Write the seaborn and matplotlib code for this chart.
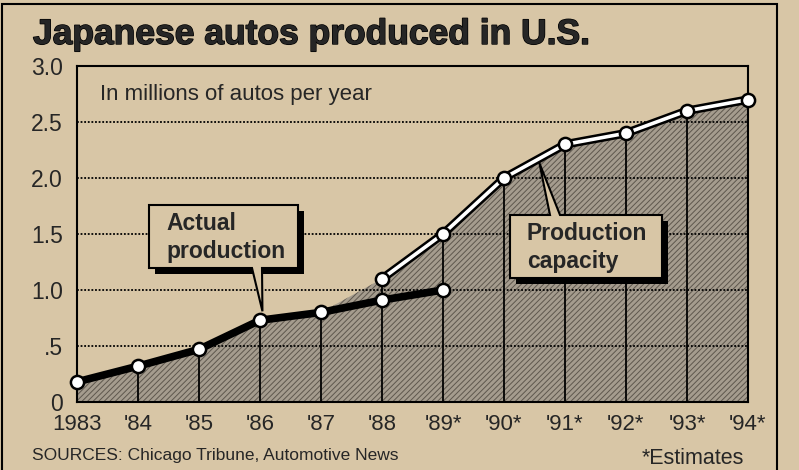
import matplotlib
matplotlib.use("Agg")
import matplotlib.pyplot as plt
import matplotlib.patheffects as pe
from matplotlib.patches import Polygon, Rectangle
import numpy as np
import pandas as pd
import seaborn as sns

years = [1983, 1984, 1985, 1986, 1987, 1988, 1989, 1990, 1991, 1992, 1993, 1994]
year_labels = ["1983", "'84", "'85", "'86", "'87", "'88", "'89*", "'90*", "'91*", "'92*", "'93*", "'94*"]
actual_years = [1983, 1984, 1985, 1986, 1987, 1988, 1989]
actual = [0.18, 0.32, 0.47, 0.73, 0.80, 0.91, 1.0]
capacity_years = [1988, 1989, 1990, 1991, 1992, 1993, 1994]
capacity = [1.1, 1.5, 2.0, 2.3, 2.4, 2.6, 2.7]
y_ticks = [0, 0.5, 1.0, 1.5, 2.0, 2.5, 3.0]
y_labels = ["0", ".5", "1.0", "1.5", "2.0", "2.5", "3.0"]

paper = "#d8c6a6"
W, H = 799, 470

sns.set_style("white")
plt.rcParams["font.family"] = ["Liberation Sans", "DejaVu Sans"]
plt.rcParams["hatch.linewidth"] = 0.7

act = pd.DataFrame({"year": actual_years, "value": actual})
cap = pd.DataFrame({"year": capacity_years, "value": capacity})
top = pd.concat([act, cap]).groupby("year")["value"].max().reindex(years)


def px(x, y):
    return (x / W, 1 - y / H)


fig = plt.figure(figsize=(W / 100, H / 100), dpi=100, facecolor=paper)
ax = fig.add_axes([77 / W, 1 - 402 / H, 671 / W, 336 / H])
ax.set_facecolor(paper)
ax.set_xlim(1983, 1994)
ax.set_ylim(0, 3.0)

# shaded area under the upper curve
ax.fill_between(top.index, 0, top.values, facecolor="#a59c8e",
                edgecolor="#5e574d", linewidth=0, hatch="//////", zorder=1)

# dotted gridlines and year posts
ax.hlines(y_ticks[1:-1], 1983, 1994, colors="black", linestyles=(0, (1, 1)),
          linewidth=1.3, zorder=2)
ax.vlines(top.index, 0, top.values, colors="black", linewidth=1.3, zorder=2)

sns.lineplot(data=act, x="year", y="value", ax=ax, color="black",
             linewidth=5.5, zorder=3, solid_capstyle="round")
sns.lineplot(data=cap, x="year", y="value", ax=ax, color="white",
             linewidth=2.6, zorder=4,
             path_effects=[pe.Stroke(linewidth=6.2, foreground="black"), pe.Normal()])
for d in (act, cap):
    sns.scatterplot(data=d, x="year", y="value", ax=ax, s=90, color="white",
                    edgecolor="black", linewidth=1.8, zorder=5, clip_on=False)

ax.set_xticks(years)
ax.set_xticklabels(year_labels, fontsize=16)
ax.set_yticks(y_ticks)
ax.set_yticklabels(y_labels, fontsize=16.5)
ax.tick_params(length=0)
ax.tick_params(axis="y", pad=10)
ax.tick_params(axis="x", pad=9)
ax.set_xlabel("")
ax.set_ylabel("")
for s in ax.spines.values():
    s.set_color("black")
    s.set_linewidth(1.5)

# outer border of the clipping
fig.add_artist(Rectangle(px(2, 480), 775 / W, 476 / H, transform=fig.transFigure,
                         fill=False, edgecolor="black", linewidth=1.5))

fig.text(*px(33, 44), "Japanese autos produced in U.S.", fontsize=25.5,
         fontweight="bold", va="baseline",
         path_effects=[pe.withStroke(linewidth=1.0, foreground="black")])
fig.text(*px(100, 100), "In millions of autos per year", fontsize=16, va="baseline")
fig.text(*px(32, 460), "SOURCES: Chicago Tribune, Automotive News", fontsize=12.5,
         va="baseline")
fig.text(*px(642, 464), "*Estimates", fontsize=15.5, va="baseline")


def to_fig_px(x, y):
    fx, fy = fig.transFigure.inverted().transform(ax.transData.transform((x, y)))
    return fx * W, (1 - fy) * H


def callout(x0, y0, x1, y1, base, tip, side, lines):
    fig.add_artist(Rectangle(px(x0 + 6, y1 + 6), (x1 - x0) / W, (y1 - y0) / H,
                             transform=fig.transFigure, facecolor="black",
                             edgecolor="none", zorder=6))
    tx, ty = tip
    if side == "bottom":
        pts = [(x0, y0), (x1, y0), (x1, y1), (base[1], y1), (tx, ty), (base[0], y1), (x0, y1)]
    else:
        pts = [(x0, y0), (base[0], y0), (tx, ty), (base[1], y0), (x1, y0), (x1, y1), (x0, y1)]
    fig.add_artist(Polygon([px(*p) for p in pts], closed=True, transform=fig.transFigure,
                           facecolor=paper, edgecolor="black", linewidth=1.5, zorder=7))
    for i, t in enumerate(lines):
        fig.text(*px(x0 + 17, y0 + 25 + 28 * i), t, fontsize=16.5, fontweight="bold",
                 va="baseline", zorder=8)


tip_a = to_fig_px(1986.04, 0.73 + 0.08)
callout(149, 205, 298, 268, (252, 262), tip_a, "bottom", ["Actual", "production"])
xt = 1990.58
tip_c = to_fig_px(xt, np.interp(xt, capacity_years, capacity) - 0.04)
callout(510, 215, 662, 278, (550, 560), tip_c, "top", ["Production", "capacity"])

fig.savefig("out.png", dpi=100, facecolor=paper)
